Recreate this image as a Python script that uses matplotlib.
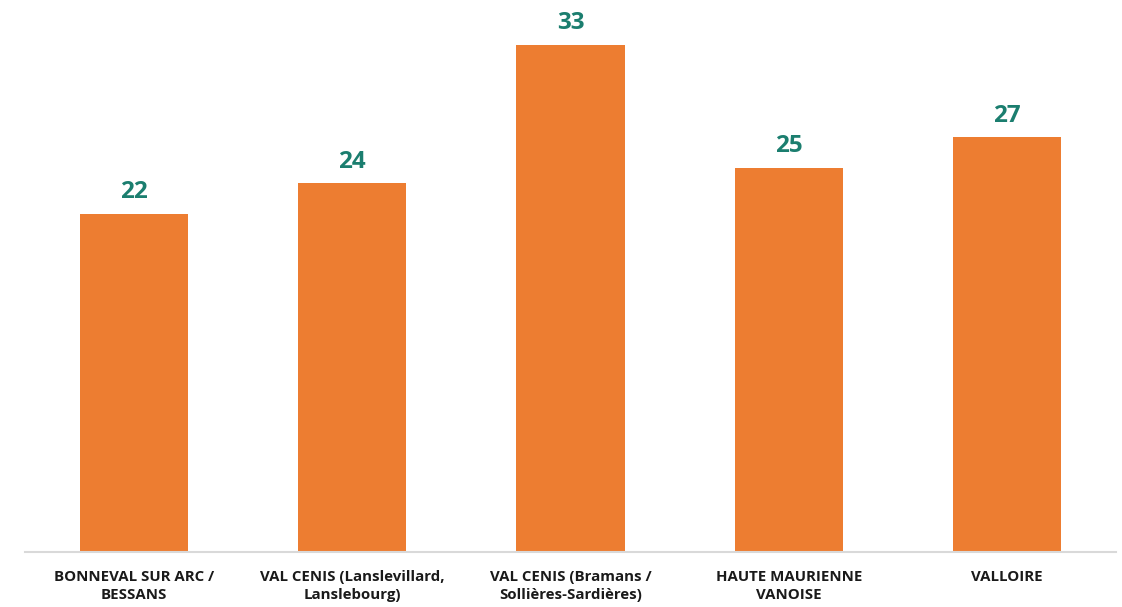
import matplotlib
matplotlib.use("Agg")
import matplotlib.pyplot as plt

categories = ["BONNEVAL SUR ARC /\nBESSANS",
              "VAL CENIS (Lanslevillard,\nLanslebourg)",
              "VAL CENIS (Bramans /\nSollières-Sardières)",
              "HAUTE MAURIENNE\nVANOISE",
              "VALLOIRE"]
values = [22, 24, 33, 25, 27]

plt.rcParams['font.family'] = ['Open Sans', 'DejaVu Sans']

fig = plt.figure(figsize=(11.22, 6.07), dpi=100)
ax = fig.add_axes([25/1122, 55/607, (1116-25)/1122, 552/607])

x = list(range(len(categories)))
bars = ax.bar(x, values, width=0.495, color="#ED7D31", zorder=2)
ax.set_xlim(-0.5, len(categories) - 0.5)
ax.set_ylim(0, 552 / 15.36)

for xi, v in zip(x, values):
    ax.annotate(str(v), (xi, v), xytext=(0, 7), textcoords="offset points",
                ha="center", va="bottom", fontsize=17.5, fontweight="bold",
                color="#1B7E6F")

ax.set_xticks(x)
ax.set_xticklabels(categories, fontsize=10.8, fontweight="bold", color="#1a1a1a",
                   linespacing=1.35)
ax.tick_params(axis="x", length=0, pad=13)
ax.set_yticks([])
for s in ["top", "right", "left"]:
    ax.spines[s].set_visible(False)
ax.spines["bottom"].set_color("#D9D9D9")
ax.spines["bottom"].set_linewidth(1.5)

fig.savefig("out.png", dpi=100)
